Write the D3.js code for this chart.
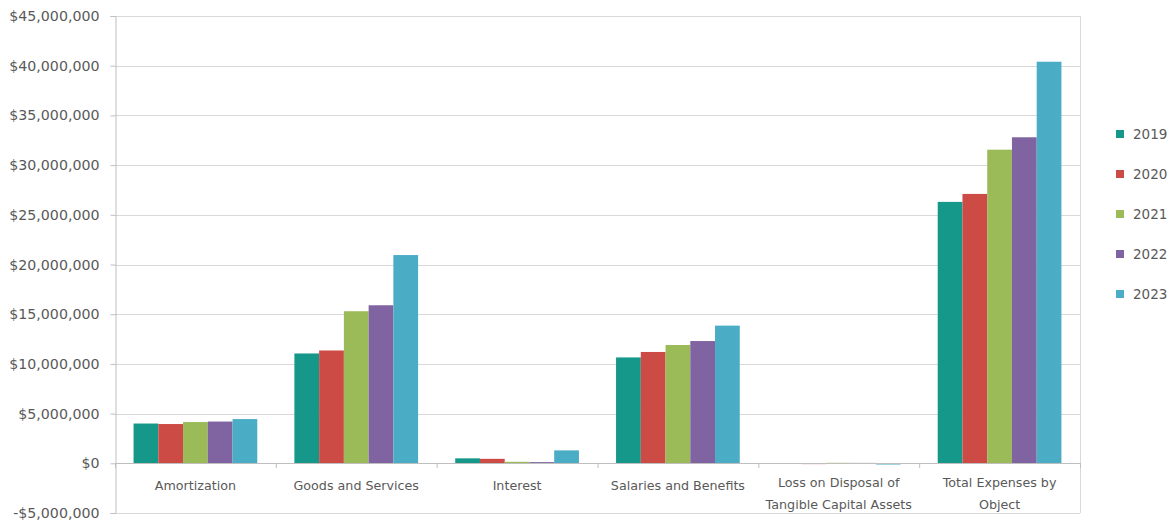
<!DOCTYPE html>
<html>
<head>
<meta charset="utf-8">
<script src="https://cdn.jsdelivr.net/npm/d3@7"></script>
<style>
  html, body { margin: 0; padding: 0; background: #fff; }
  svg { display: block; font-family: "DejaVu Sans", sans-serif; }
  .tick text { fill: #595959; }
</style>
</head>
<body>
<svg id="chart" width="1172" height="522"></svg>
<script>
// Expenses by object, 2019–2023
const categories = [
  ["Amortization"],
  ["Goods and Services"],
  ["Interest"],
  ["Salaries and Benefits"],
  ["Loss on Disposal of", "Tangible Capital Assets"],
  ["Total Expenses by", "Object"]
];
const years = ["2019", "2020", "2021", "2022", "2023"];
const colors = ["#15988a", "#cc4b45", "#9bbb59", "#8064a2", "#4bacc6"];

const v2019 = [4000000, 11050000, 500000, 10650000, 30000, 26300000];
const v2020 = [3950000, 11350000, 450000, 11200000, 20000, 27100000];
const v2021 = [4150000, 15300000, 150000, 11900000, 50000, 31550000];
const v2022 = [4200000, 15900000, 120000, 12300000, 40000, 32800000];
const v2023 = [4450000, 20950000, 1300000, 13850000, -120000, 40400000];
const series = [v2019, v2020, v2021, v2022, v2023];

const yTicks = [-5000000, 0, 5000000, 10000000, 15000000, 20000000, 25000000,
                30000000, 35000000, 40000000, 45000000];

const svg = d3.select("#chart");
const plot = { left: 115, right: 1080, top: 16, bottom: 513 };

const y = d3.scaleLinear().domain([-5000000, 45000000]).range([plot.bottom, plot.top]);
const x0 = d3.scaleBand().domain(d3.range(categories.length))
  .range([plot.left, plot.right]).paddingInner(0).paddingOuter(0);
// gap width of 150% of a bar: 5 bars + 1.5 bars of gap per category
const barW = x0.bandwidth() / (years.length + 1.5);
const groupOffset = 0.75 * barW;

const fmt = v => (v < 0 ? "-$" : "$") + d3.format(",")(Math.abs(v));

// gridlines
svg.append("g").selectAll("line").data(yTicks).join("line")
  .attr("x1", plot.left).attr("x2", plot.right)
  .attr("y1", d => Math.round(y(d)) + 0.5).attr("y2", d => Math.round(y(d)) + 0.5)
  .attr("stroke", "#d9d9d9").attr("stroke-width", 1);

// plot frame right side
svg.append("line").attr("x1", plot.right + 0.5).attr("x2", plot.right + 0.5)
  .attr("y1", plot.top).attr("y2", plot.bottom).attr("stroke", "#d9d9d9");

// y axis
const yAxis = d3.axisLeft(y).tickValues(yTicks).tickFormat(fmt).tickSize(5).tickPadding(11);
const gy = svg.append("g").attr("transform", `translate(${plot.left + 0.5},0)`).call(yAxis);
gy.select(".domain").attr("stroke", "#bfbfbf");
gy.selectAll(".tick line").attr("stroke", "#bfbfbf");
gy.selectAll(".tick text").attr("font-size", 14.2).attr("font-family", "DejaVu Sans");

// bars
const bars = svg.append("g");
series.forEach((vals, si) => {
  bars.append("g").attr("fill", colors[si]).selectAll("rect").data(vals).join("rect")
    .attr("x", (d, i) => x0(i) + groupOffset + si * barW)
    .attr("width", barW)
    .attr("y", d => y(Math.max(0, d)))
    .attr("height", d => Math.max(1, Math.abs(y(d) - y(0))));
});

// zero axis line with category ticks
svg.append("line").attr("x1", plot.left).attr("x2", plot.right)
  .attr("y1", Math.round(y(0)) + 0.5).attr("y2", Math.round(y(0)) + 0.5)
  .attr("stroke", "#bfbfbf");
svg.append("g").selectAll("line").data(d3.range(categories.length + 1)).join("line")
  .attr("x1", i => plot.left + i * x0.bandwidth() + 0.5)
  .attr("x2", i => plot.left + i * x0.bandwidth() + 0.5)
  .attr("y1", Math.round(y(0))).attr("y2", Math.round(y(0)) + 5)
  .attr("stroke", "#bfbfbf");

// category labels
const labels = svg.append("g").attr("fill", "#595959").attr("font-size", 12.7)
  .attr("text-anchor", "middle");
categories.forEach((lines, i) => {
  const cx = x0(i) + x0.bandwidth() / 2;
  const t = labels.append("text").attr("x", cx)
    .attr("y", lines.length === 1 ? 490 : 487);
  lines.forEach((ln, k) => {
    t.append("tspan").attr("x", cx).attr("dy", k === 0 ? 0 : 22).text(ln);
  });
});

// legend
const legend = svg.append("g").attr("font-size", 13.5).attr("fill", "#595959");
years.forEach((yr, i) => {
  const ly = 134 + i * 40;
  legend.append("rect").attr("x", 1116).attr("y", ly - 4).attr("width", 8).attr("height", 8)
    .attr("fill", colors[i]);
  legend.append("text").attr("x", 1133).attr("y", ly + 5).text(yr);
});
</script>
</body>
</html>
